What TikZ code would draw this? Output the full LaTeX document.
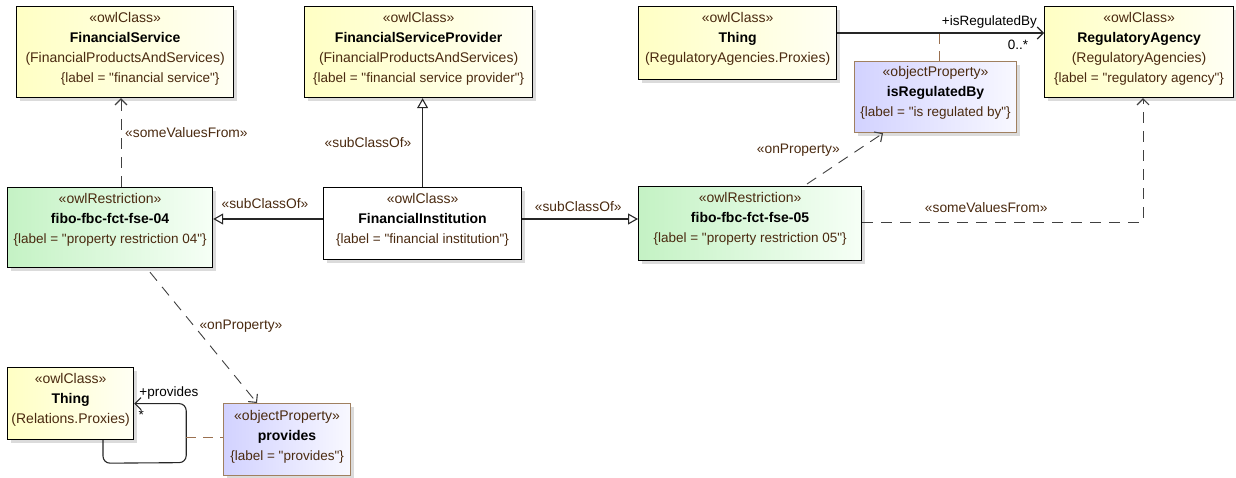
\documentclass[tikz,border=0pt]{standalone}
\usepackage{fontspec}
\setmainfont{Liberation Sans}
\newfontfamily\umlfont{Liberation Sans}[Ligatures=NoCommon]
\usetikzlibrary{arrows.meta,shadows,calc}
\definecolor{tc}{HTML}{4A2A10}
\definecolor{brn}{HTML}{A08060}
\definecolor{adc}{HTML}{9A7050}
\definecolor{clsA}{HTML}{FFFFC4}
\definecolor{clsB}{HTML}{FFFFF4}
\definecolor{resA}{HTML}{C4F2C4}
\definecolor{resB}{HTML}{F6FFF6}
\definecolor{opA}{HTML}{D2D2FF}
\definecolor{opB}{HTML}{F8F8FF}
\newcommand{\stx}[1]{{\color{tc}«#1»}}
\newcommand{\nmx}[1]{{\bfseries #1}}
\newcommand{\pkx}[1]{{\color{tc}#1}}
\newcommand{\lbx}[1]{{\color{tc}\fontsize{13.5}{20}\selectfont\{label = "#1"\}}}
\begin{document}
\begin{tikzpicture}[x=1pt,y=-1pt,
  box/.style={anchor=north west, inner sep=0pt, line width=1.2pt, drop shadow={shadow xshift=3pt,shadow yshift=-3pt,fill=black!28}},
  cls/.style={box, draw=black, left color=clsA, right color=clsB},
  res/.style={box, draw=black, left color=resA, right color=resB},
  opr/.style={box, draw=brn, left color=opA, right color=opB},
  plain/.style={box, draw=black, fill=white},
  txt/.style={anchor=north, align=center, inner sep=0pt, font=\umlfont\fontsize{14}{20}\selectfont},
  lbl/.style={inner sep=0pt, text=tc, font=\umlfont\fontsize{13.8}{16}\selectfont},
  role/.style={inner sep=0pt, text=black, font=\umlfont\fontsize{13.5}{16}\selectfont},
  con/.style={line width=1.1pt, draw=black!85},
  dsh/.style={line width=0.9pt, draw=black!75, dash pattern=on 11pt off 8pt},
  opn/.style={-{Straight Barb[length=6pt,width=12pt,line width=1.1pt]}},
  tri/.style={-{Triangle[open,length=10pt,width=11pt,fill=white,line width=1.1pt]}},
  adsh/.style={draw=adc, line width=1pt, dash pattern=on 10pt off 7pt}
]
\useasboundingbox (0,0) rectangle (1236,478);

% boxes
\node[cls, minimum width=217pt, minimum height=91pt] (fs) at (16,6) {};
\node[txt] (fsT) at ($(fs.north)+(0,6)$) {\stx{owlClass}\\\nmx{FinancialService}\\\pkx{(FinancialProductsAndServices)}\\\hspace*{30pt}\lbx{financial service}};

\node[cls, minimum width=228pt, minimum height=91pt] (fsp) at (304,6) {};
\node[txt] (fspT) at ($(fsp.north)+(0,6)$) {\stx{owlClass}\\\nmx{FinancialServiceProvider}\\\pkx{(FinancialProductsAndServices)}\\\lbx{financial service provider}};

\node[cls, minimum width=198pt, minimum height=73pt] (tha) at (638,6) {};
\node[txt] (thaT) at ($(tha.north)+(0,6)$) {\stx{owlClass}\\\nmx{Thing}\\\pkx{(RegulatoryAgencies.Proxies)}};

\node[cls, minimum width=189pt, minimum height=91pt] (ra) at (1044,6) {};
\node[txt] (raT) at ($(ra.north)+(0,6)$) {\stx{owlClass}\\\nmx{RegulatoryAgency}\\\pkx{(RegulatoryAgencies)}\\\lbx{regulatory agency}};

\node[opr, minimum width=162pt, minimum height=71pt] (irb) at (854,61) {};
\node[txt] (irbT) at ($(irb.north)+(0,5)$) {\stx{objectProperty}\\\nmx{isRegulatedBy}\\\lbx{is regulated by}};

\node[res, minimum width=205pt, minimum height=80pt] (r4) at (7,187) {};
\node[txt] (r4T) at ($(r4.north)+(0,6)$) {\stx{owlRestriction}\\\nmx{fibo-fbc-fct-fse-04}\\\lbx{property restriction 04}};

\node[plain, minimum width=198pt, minimum height=72pt] (fi) at (323,187) {};
\node[txt] (fiT) at ($(fi.north)+(0,6)$) {\stx{owlClass}\\\nmx{FinancialInstitution}\\\lbx{financial institution}};

\node[res, minimum width=223pt, minimum height=74pt] (r5) at (638,186) {};
\node[txt] (r5T) at ($(r5.north)+(0,6)$) {\stx{owlRestriction}\\\nmx{fibo-fbc-fct-fse-05}\\\lbx{property restriction 05}};

\node[cls, minimum width=126pt, minimum height=72pt] (thb) at (7,367) {};
\node[txt] (thbT) at ($(thb.north)+(0,6)$) {\stx{owlClass}\\\nmx{Thing}\\\pkx{(Relations.Proxies)}};

\node[opr, minimum width=127pt, minimum height=72pt] (pv) at (223,403) {};
\node[txt] (pvT) at ($(pv.north)+(0,7)$) {\stx{objectProperty}\\\nmx{provides}\\\lbx{provides}};

% connectors
\draw[dsh,opn] ($(r4.north west)+(114,0)$) -- ($(fs.south west)+(105,0)$);
\node[lbl, anchor=west] (l1) at ($(fs.south west)+(109,34)$) {«someValuesFrom»};

\draw[con,tri] (fi.north) -- (fi.north |- fsp.south);
\node[lbl, anchor=east] (l2) at ($(fi.north)+(-11,-44)$) {«subClassOf»};

\draw[con,tri] ($(fi.north west)+(0,32)$) coordinate (a) -- (a -| r4.east);
\node[lbl] (l3) at ($(a)+(-58,-15)$) {«subClassOf»};

\draw[con,tri] ($(fi.north east)+(0,32)$) coordinate (b) -- (b -| r5.west);
\node[lbl] (l4) at ($(b)+(56,-12)$) {«subClassOf»};

\draw[dsh,opn] ($(r5.north west)+(169,-2)$) -- ($(irb.south west)+(29,0)$);
\node[lbl, anchor=east] (l5) at ($(irb.south west)+(-14,17)$) {«onProperty»};

\draw[dsh,opn] ($(r5.north east)+(0,36)$) -| ($(ra.south west)+(99,0)$);
\node[lbl] (l6) at ($(r5.north east)+(124,22)$) {«someValuesFrom»};

\draw[con,opn] ($(tha.north east)+(0,27)$) coordinate (c) -- (c -| ra.west);
\node[role, anchor=east] (l7) at ($(c -| ra.west)+(-7,-11)$) {+isRegulatedBy};
\node[role] (l8) at ($(c -| ra.west)+(-26,12)$) {0..*};
\coordinate (d) at ($(irb.north west)+(85,0)$);
\draw[adsh] (d) -- (d |- c);

\draw[dsh,opn] ($(r4.south west)+(143,4)$) -- ($(pv.north west)+(34,0)$);
\node[lbl] (l9) at ($(r4.south west)+(234,58)$) {«onProperty»};

\draw[con,opn,rounded corners=7pt] ($(thb.south west)+(96,0)$) -- ++(0,23) -- ($(thb.east)+(52,59)$) -- ($(thb.east)+(52,0)$) -- (thb.east);
\node[role, anchor=west] (l10) at ($(thb.east)+(5,-11)$) {+provides};
\node[role] (l11) at ($(thb.east)+(7,11)$) {*};
\coordinate (e) at ($(thb.east)+(52,34)$);
\draw[adsh] (e) -- (e -| pv.west);
\end{tikzpicture}
\end{document}
